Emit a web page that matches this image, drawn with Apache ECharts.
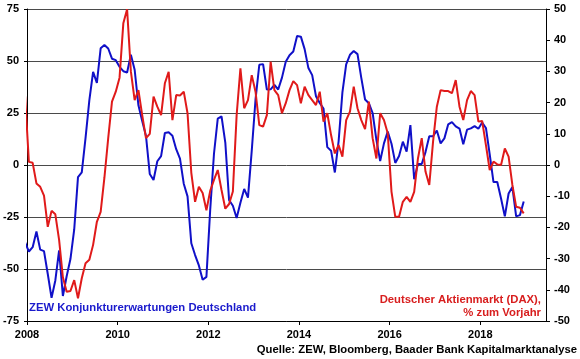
<!DOCTYPE html>
<html><head><meta charset="utf-8">
<script src="https://cdn.jsdelivr.net/npm/echarts@6/dist/echarts.min.js"></script>
<style>html,body{margin:0;padding:0;background:#fff}#c{width:580px;height:359px}</style>
</head><body><div id="c"></div>
<script>
// Monthly data; arrays begin with Dec 2007 (clipped at the left edge), then Jan 2008 ... Dec 2018
const startYear = 2008;
const zewValues = [-37.2,
  -41.6, -39.5, -32.0, -40.7, -41.4, -52.4, -63.9, -55.5, -41.1, -63.0, -53.5, -45.2,
  -31.0, -5.8, -3.5, 13.0, 31.1, 44.8, 39.5, 56.1, 57.7, 56.0, 51.1, 50.4,
  47.2, 45.1, 44.5, 53.0, 45.8, 28.7, 21.2, 14.0, -4.3, -7.2, 1.8, 4.3,
  15.4, 15.7, 14.1, 7.6, 3.1, -9.0, -15.1, -37.6, -43.3, -48.3, -55.2, -53.8,
  -21.6, 5.4, 22.3, 23.4, 10.8, -16.9, -19.6, -25.5, -18.2, -11.5, -15.7, 6.9,
  31.5, 48.2, 48.5, 36.3, 36.4, 38.5, 36.3, 42.0, 49.6, 52.8, 54.6, 62.0,
  61.7, 55.7, 46.6, 43.2, 33.1, 29.8, 27.1, 8.6, 6.9, -3.6, 11.5, 34.9,
  48.4, 53.0, 54.8, 53.3, 41.9, 31.5, 29.7, 25.0, 12.1, 1.9, 10.4, 16.1,
  10.2, 1.0, 4.3, 11.2, 6.4, 19.2, -6.8, 0.5, 0.5, 6.2, 13.8, 13.8,
  16.6, 10.4, 12.8, 19.5, 20.6, 18.6, 17.5, 10.0, 17.0, 17.6, 18.7, 17.4,
  20.4, 17.8, 5.1, -8.2, -8.2, -16.1, -24.7, -13.7, -10.6, -24.7, -24.1, -17.5
];
const daxValues = [22.0,
  1.0, 0.7, -5.9, -7.0, -9.8, -19.8, -14.7, -15.8, -24.0, -36.0, -40.6, -40.4,
  -36.9, -42.7, -36.3, -31.5, -30.4, -25.6, -18.2, -15.0, -4.0, 8.6, 20.3, 23.5,
  28.0, 45.4, 49.9, 30.0, 20.8, 24.0, 16.0, 8.6, 10.0, 21.9, 18.7, 16.0,
  26.2, 29.9, 14.4, 22.4, 22.3, 23.5, 16.6, -2.5, -11.8, -7.0, -9.0, -14.5,
  -8.3, -4.8, -1.6, -8.0, -14.0, -12.5, -8.5, 16.0, 31.0, 18.2, 20.8, 28.8,
  23.5, 12.8, 12.3, 16.0, 33.1, 24.0, 22.4, 16.6, 19.8, 24.0, 26.9, 25.6,
  19.8, 25.1, 22.4, 20.8, 19.2, 23.5, 13.9, 16.6, 9.6, 3.7, 6.4, 2.7,
  14.4, 17.1, 25.1, 18.2, 14.4, 11.5, 20.3, 8.6, 2.1, 16.6, 14.4, 10.2,
  -8.6, -16.6, -16.6, -11.8, -10.2, -11.8, -8.6, 2.1, 8.6, -2.1, -6.4, 7.5,
  18.7, 24.0, 23.7, 23.7, 23.0, 27.2, 18.7, 14.4, 20.8, 23.7, 22.4, 13.9,
  14.1, 6.4, -1.6, 1.1, 0.2, 0.0, 5.3, 2.7, -6.4, -13.4, -13.7, -15.5
];
const xTickLabels = [2008, 2010, 2012, 2014, 2016, 2018];
const leftAxisRange = [-75, 75, 25];
const rightAxisRange = [-50, 50, 10];
const zewLabel = 'ZEW Konjunkturerwartungen Deutschland';
const daxLabel1 = 'Deutscher Aktienmarkt (DAX),';
const daxLabel2 = '% zum Vorjahr';
const sourceLabel = 'Quelle: ZEW, Bloomberg, Baader Bank Kapitalmarktanalyse';

function toPairs(arr) { return arr.map((v, i) => [startYear + (i - 0.5) / 12, v]); }

const FONT = '"Liberation Sans", Arial, sans-serif';
const lbl = { fontFamily: FONT, fontWeight: 'bold', fontSize: 11, color: '#000' };
const TF = 'bold 11.3px ' + FONT;

const chart = echarts.init(document.getElementById('c'), null, { renderer: 'canvas' });
chart.setOption({
  animation: false,
  backgroundColor: '#fff',
  grid: { left: 27, right: 34, top: 9, bottom: 38, containLabel: false },
  xAxis: {
    type: 'value', min: 2008, max: 2019.45, interval: 2,
    axisLine: { show: true, onZero: false, lineStyle: { color: '#000', width: 1 } },
    axisTick: { show: true, length: 4, lineStyle: { color: '#000' } },
    splitLine: { show: false },
    axisLabel: Object.assign({}, lbl, { margin: 8, showMaxLabel: false,
      formatter: v => xTickLabels.indexOf(Math.round(v)) >= 0 && Math.abs(v - Math.round(v)) < 1e-6 ? String(Math.round(v)) : '' })
  },
  yAxis: [{
    type: 'value', min: leftAxisRange[0], max: leftAxisRange[1], interval: leftAxisRange[2], position: 'left',
    axisLine: { show: true, onZero: false, lineStyle: { color: '#000', width: 1 } },
    axisTick: { show: true, length: 3, lineStyle: { color: '#000' } },
    splitLine: { show: true, lineStyle: { color: '#4a4a4a', width: 1 } },
    axisLabel: Object.assign({}, lbl, { margin: 8 })
  }, {
    type: 'value', min: rightAxisRange[0], max: rightAxisRange[1], interval: rightAxisRange[2], position: 'right',
    axisLine: { show: true, onZero: false, lineStyle: { color: '#000', width: 1 } },
    axisTick: { show: true, length: 4, lineStyle: { color: '#000' } },
    splitLine: { show: false },
    axisLabel: Object.assign({}, lbl, { margin: 8 })
  }],
  series: [{
    name: zewLabel, type: 'line', yAxisIndex: 0, data: toPairs(zewValues),
    showSymbol: false, symbol: 'none', clip: true,
    lineStyle: { color: '#1010c8', width: 2 }
  }, {
    name: 'DAX', type: 'line', yAxisIndex: 1, data: toPairs(daxValues),
    showSymbol: false, symbol: 'none', clip: true,
    lineStyle: { color: '#e01a1a', width: 2 }
  }],
  graphic: [
    { type: 'text', left: 29, top: 302, style: { text: zewLabel, font: TF, fill: '#1a1acc' } },
    { type: 'text', right: 39, top: 294, style: { text: daxLabel1, font: TF, fill: '#d81e1e', textAlign: 'right' } },
    { type: 'text', right: 39, top: 307, style: { text: daxLabel2, font: TF, fill: '#d81e1e', textAlign: 'right' } },
    { type: 'text', right: 3, top: 344, style: { text: sourceLabel, font: TF, fill: '#000', textAlign: 'right' } }
  ]
});
</script></body></html>
